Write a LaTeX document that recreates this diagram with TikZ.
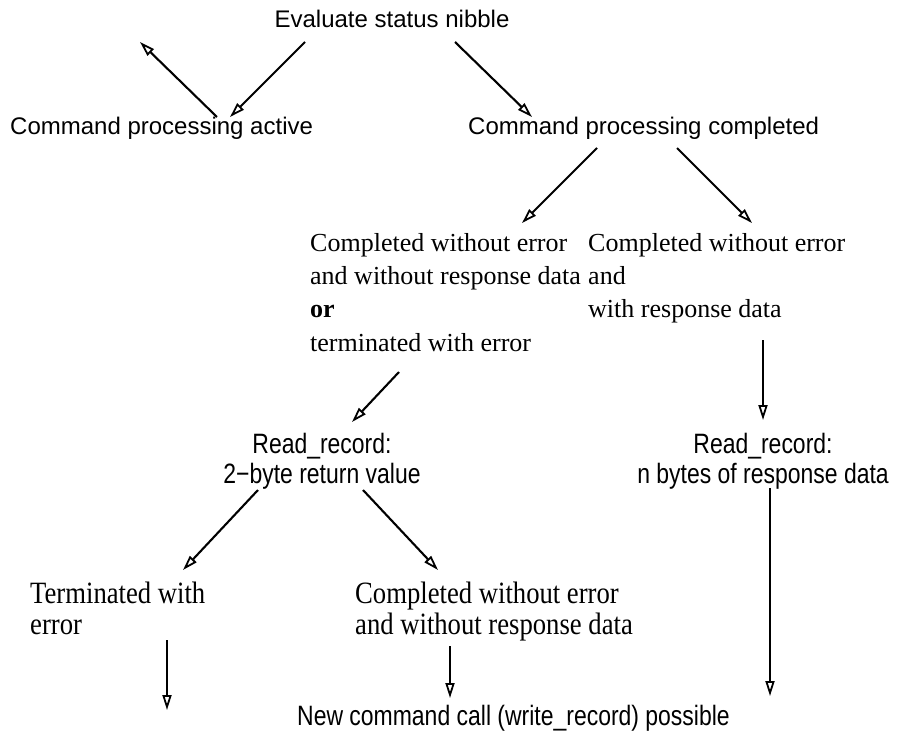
\documentclass[tikz,border=0pt]{standalone}
\usepackage{fontspec}
\setmainfont{Liberation Serif}
\setsansfont{Liberation Sans}
\newfontfamily\hsans{Liberation Sans}
\newfontfamily\hsansn[FakeStretch=0.82]{Liberation Sans}
\newfontfamily\tserif{Liberation Serif}
\newfontfamily\tserifn[FakeStretch=0.86]{Liberation Serif}
\usetikzlibrary{arrows.meta}
\begin{document}
\begin{tikzpicture}[x=1pt,y=-1pt,
  sanslbl/.style={inner sep=0pt, font=\hsans\fontsize{24}{28}\selectfont},
  sansn/.style={inner sep=0pt, align=center, font=\hsansn\fontsize{28}{30}\selectfont},
  seriflbl/.style={inner sep=0pt, align=left, font=\tserif\fontsize{26}{33.3}\selectfont},
  serifn/.style={inner sep=0pt, align=left, font=\tserifn\fontsize{31}{31}\selectfont},
  arr/.style={line width=2.1pt, -{Triangle[open,length=15pt,width=9pt,line width=1.8pt]}}]
\useasboundingbox (0,0) rectangle (904,733);

% texts
\node[sanslbl] (eval) at (392,19) {Evaluate status nibble};
\node[sanslbl, anchor=west] (act) at (10,128) {Command processing active};
\node[sanslbl, anchor=west] (comp) at (468,128) {Command processing completed};
\node[seriflbl, anchor=north west] (cwo) at (310,233) {Completed without error\\and without response data\\\textbf{or}\\terminated with error};
\node[seriflbl, anchor=north west] (cwr) at (588,233) {Completed without error\\and\\with response data};
\node[sansn] (rr1) at (322,461) {Read\_record:\\2\char"2212 byte return value};
\node[sansn] (rr2) at (763,461) {Read\_record:\\n bytes of response data};
\node[serifn, anchor=north west] (term) at (30,582) {Terminated with\\error};
\node[serifn, anchor=north west] (cwo2) at (355,582) {Completed without error\\and without response data};
\node[sansn, anchor=west] (newc) at (297,718) {New command call (write\_record) possible};

% arrow end points
\coordinate (a1s) at (217,117); \coordinate (a1e) at (140,42);
\coordinate (a2s) at (305,42);  \coordinate (a2e) at (230,117);
\coordinate (a3s) at (455,42);  \coordinate (a3e) at (532,117);
\coordinate (a4s) at (597,148); \coordinate (a4e) at (522,223);
\coordinate (a5s) at (677,148); \coordinate (a5e) at (752,223);
\coordinate (a6s) at (399,372); \coordinate (a6e) at (352,422);
\coordinate (a7s) at (763,340); \coordinate (a7e) at (763,420);
\coordinate (a8s) at (258,490); \coordinate (a8e) at (183,570);
\coordinate (a9s) at (363,490); \coordinate (a9e) at (438,570);
\coordinate (a10s) at (167,640); \coordinate (a10e) at (167,710);
\coordinate (a11s) at (450,646); \coordinate (a11e) at (450,698);
\coordinate (a12s) at (770,488); \coordinate (a12e) at (770,696);

\draw[arr] (a1s) -- (a1e);
\draw[arr] (a2s) -- (a2e);
\draw[arr] (a3s) -- (a3e);
\draw[arr] (a4s) -- (a4e);
\draw[arr] (a5s) -- (a5e);
\draw[arr] (a6s) -- (a6e);
\draw[arr] (a7s) -- (a7e);
\draw[arr] (a8s) -- (a8e);
\draw[arr] (a9s) -- (a9e);
\draw[arr] (a10s) -- (a10e);
\draw[arr] (a11s) -- (a11e);
\draw[arr] (a12s) -- (a12e);
\end{tikzpicture}
\end{document}
